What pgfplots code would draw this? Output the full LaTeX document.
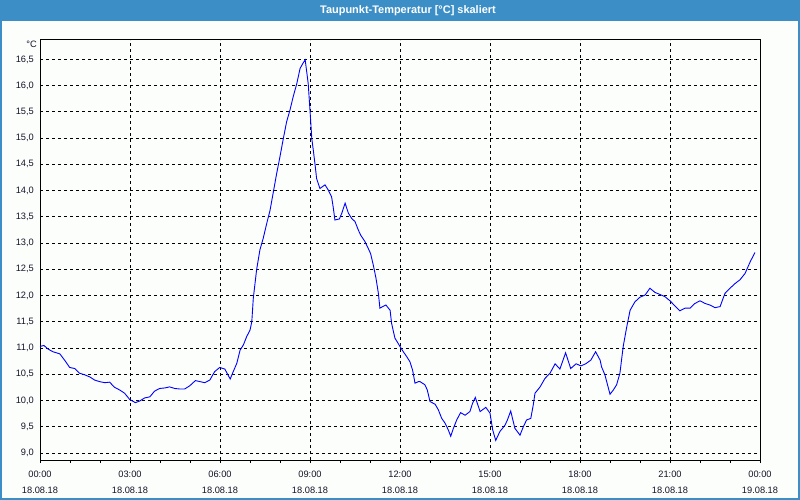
\documentclass[border=0pt]{standalone}
\usepackage{pgfplots}
\pgfplotsset{compat=1.18}
\usetikzlibrary{backgrounds}
\usepackage{fontspec}
\setmainfont{Liberation Sans}
\definecolor{barblue}{RGB}{60,143,198}
\definecolor{bg}{RGB}{252,254,252}
\definecolor{lbl}{RGB}{20,20,40}
\begin{document}
\begin{tikzpicture}
\begin{axis}[
  scale only axis, width=720bp, height=420bp,
  xmin=0, xmax=24, ymin=8.867, ymax=16.87,
  axis line style={black, line width=1bp},
  grid=major,
  major grid style={black, line width=0.8bp, dash pattern=on 3bp off 3bp},
  xtick={0,3,...,24},
  minor x tick num=2,
  xticklabels={{00:00\\18.08.18},{03:00\\18.08.18},{06:00\\18.08.18},{09:00\\18.08.18},{12:00\\18.08.18},{15:00\\18.08.18},{18:00\\18.08.18},{21:00\\18.08.18},{00:00\\19.08.18}},
  xticklabel style={align=center, font=\fontsize{9.3}{15.5}\selectfont, inner sep=0pt, yshift=-8bp, text=lbl},
  ytick={9,9.5,10,10.5,11,11.5,12,12.5,13,13.5,14,14.5,15,15.5,16,16.5},
  yticklabel style={font=\fontsize{9.3}{11}\selectfont, inner sep=0pt, xshift=-3bp, text=lbl},
  /pgf/number format/.cd, use comma, fixed, fixed zerofill, precision=1, assume math mode=true,
  /pgfplots/.cd,
  tick align=outside,
  xtick pos=bottom, ytick pos=left,
  major tick length=3bp, minor tick length=3bp,
  xtick style={black, line width=0.8bp},
  ytick style={draw=none},
  clip=false,
]
\addplot[blue, line width=0.9bp, mark=none] coordinates {
(0.0,11.03) (0.13,11.05) (0.27,10.98) (0.43,10.93) (0.66,10.89) (0.82,10.77) (0.99,10.63) (1.16,10.61) (1.32,10.52) (1.49,10.49) (1.66,10.45) (1.82,10.39) (1.99,10.36) (2.16,10.34) (2.32,10.35) (2.49,10.25) (2.66,10.20) (2.82,10.14) (2.99,10.02) (3.18,9.96) (3.32,9.99) (3.49,10.05) (3.66,10.07) (3.82,10.18) (3.99,10.23) (4.16,10.24) (4.32,10.26) (4.49,10.23) (4.66,10.22) (4.82,10.22) (4.99,10.28) (5.18,10.38) (5.34,10.36) (5.49,10.34) (5.66,10.39) (5.82,10.55) (5.99,10.63) (6.16,10.60) (6.34,10.41) (6.44,10.55) (6.56,10.71) (6.67,10.96) (6.78,11.06) (6.89,11.22) (7.0,11.34) (7.06,11.50) (7.11,11.95) (7.22,12.49) (7.33,12.87) (7.44,13.09) (7.56,13.38) (7.67,13.63) (7.78,13.98) (7.89,14.33) (8.0,14.65) (8.11,14.99) (8.22,15.31) (8.33,15.53) (8.44,15.79) (8.56,16.04) (8.67,16.33) (8.78,16.44) (8.84,16.49) (8.94,16.04) (9.0,15.53) (9.06,14.99) (9.11,14.77) (9.17,14.49) (9.22,14.23) (9.33,14.04) (9.5,14.11) (9.61,14.01) (9.72,13.88) (9.78,13.66) (9.83,13.44) (9.98,13.46) (10.06,13.57) (10.17,13.76) (10.28,13.57) (10.39,13.47) (10.5,13.41) (10.61,13.25) (10.69,13.15) (10.83,13.03) (10.94,12.90) (11.02,12.80) (11.11,12.58) (11.2,12.33) (11.28,12.04) (11.33,11.76) (11.42,11.79) (11.53,11.82) (11.67,11.72) (11.72,11.47) (11.83,11.19) (12.0,11.03) (12.11,10.93) (12.22,10.84) (12.33,10.74) (12.42,10.58) (12.5,10.33) (12.61,10.36) (12.67,10.36) (12.83,10.30) (12.91,10.20) (13.0,9.98) (13.17,9.93) (13.28,9.82) (13.39,9.66) (13.5,9.57) (13.61,9.44) (13.69,9.32) (13.78,9.47) (13.89,9.63) (14.02,9.77) (14.17,9.72) (14.33,9.79) (14.42,9.95) (14.51,10.06) (14.67,9.79) (14.86,9.87) (15.0,9.76) (15.09,9.44) (15.19,9.24) (15.33,9.41) (15.5,9.53) (15.58,9.63) (15.69,9.80) (15.83,9.47) (16.0,9.34) (16.11,9.50) (16.22,9.63) (16.36,9.66) (16.44,9.91) (16.5,10.14) (16.67,10.26) (16.83,10.42) (17.0,10.52) (17.17,10.70) (17.33,10.60) (17.52,10.91) (17.69,10.61) (17.87,10.70) (18.03,10.66) (18.19,10.70) (18.36,10.77) (18.52,10.93) (18.67,10.77) (18.72,10.64) (18.83,10.49) (19.0,10.12) (19.11,10.20) (19.22,10.30) (19.33,10.52) (19.44,11.03) (19.56,11.41) (19.67,11.72) (19.83,11.88) (20.0,11.97) (20.17,12.01) (20.33,12.14) (20.5,12.06) (20.67,12.02) (20.83,11.98) (21.0,11.90) (21.17,11.80) (21.33,11.71) (21.5,11.76) (21.67,11.76) (21.83,11.85) (22.0,11.90) (22.17,11.85) (22.33,11.82) (22.5,11.77) (22.67,11.79) (22.83,12.04) (23.0,12.14) (23.17,12.23) (23.33,12.30) (23.5,12.42) (23.67,12.64) (23.83,12.82)
};
\node[anchor=east, inner sep=0pt, font=\fontsize{9.3}{11}\selectfont, text=lbl] at (axis description cs:0,1) [xshift=-3bp, yshift=-4bp] {°C};
\end{axis}
\begin{scope}[on background layer]
\fill[bg] (-40bp,-40bp) rectangle (760bp,460bp);
\fill[barblue] (-40bp,439bp) rectangle (760bp,460bp);
\draw[barblue, line width=2bp] (-39bp,-39bp) rectangle (759bp,459bp);
\end{scope}
\node[white, font=\bfseries\fontsize{11}{12}\selectfont] at (368bp,449.5bp) {Taupunkt-Temperatur [°C] skaliert};
\pgfresetboundingbox
\path[use as bounding box] (-40bp,-40bp) rectangle (760bp,460bp);
\end{tikzpicture}
\end{document}
